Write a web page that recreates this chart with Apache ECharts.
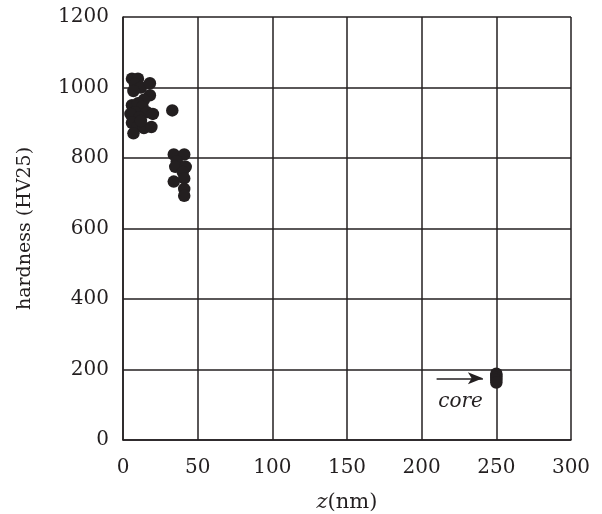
<!DOCTYPE html>
<html><head><meta charset="utf-8">
<script src="https://cdn.jsdelivr.net/npm/echarts@6/dist/echarts.min.js"></script>
<style>html,body{margin:0;padding:0;background:#fff;overflow:hidden}#c{width:602px;height:514px}</style>
</head><body><div id="c"></div>
<script>
const xTicks = [0, 50, 100, 150, 200, 250, 300];
const yTicks = [0, 200, 400, 600, 800, 1000, 1200];
const surfaceZ = [6, 10, 8, 12, 18, 7, 18, 14, 6, 10, 13, 8, 16, 5, 11, 20, 6, 10, 14, 19, 7, 12];
const surfaceH = [1025, 1025, 1010, 1000, 1012, 990, 978, 965, 950, 955, 945, 930, 930, 925, 915, 925, 900, 890, 885, 888, 870, 905];
const deepZ = [33, 34, 41, 36, 35, 42, 40, 34, 41, 41, 41];
const deepH = [935, 810, 810, 790, 775, 775, 760, 733, 742, 712, 693];
const coreZ = [250, 250, 250, 250, 250];
const coreH = [188, 182, 176, 170, 163];
const arrowStart = [210, 175];
const arrowEnd = [241, 175];
const coreLabelPos = [226, 108];
const coreLabel = 'core';

const pts = [];
surfaceZ.forEach((z, i) => pts.push([z, surfaceH[i]]));
deepZ.forEach((z, i) => pts.push([z, deepH[i]]));
coreZ.forEach((z, i) => pts.push([z, coreH[i]]));

const font = '"DejaVu Serif", "Liberation Serif", serif';
const chart = echarts.init(document.getElementById('c'));
chart.setOption({
  animation: false,
  backgroundColor: '#fff',
  grid: { left: 123, right: 31, top: 17, bottom: 74, containLabel: false, outerBoundsMode: 'none' },
  xAxis: {
    type: 'value', min: 0, max: 300, interval: 50,
    name: '{i|z}(nm)', nameLocation: 'middle', nameGap: 52,
    nameTextStyle: { fontFamily: font, fontSize: 21, color: '#231f20',
      rich: { i: { fontFamily: font, fontStyle: 'italic', fontSize: 21, color: '#231f20' } } },
    axisLine: { show: true, lineStyle: { color: '#231f20', width: 1.5 } },
    axisTick: { show: false },
    splitLine: { show: true, lineStyle: { color: '#231f20', width: 1.5 } },
    axisLabel: { fontFamily: font, fontSize: 20, color: '#231f20', margin: 18,
      formatter: v => xTicks.includes(v) ? String(v) : '' }
  },
  yAxis: {
    type: 'value', min: 0, max: 1200, interval: 200,
    name: 'hardness (HV25)', nameLocation: 'middle', nameGap: 88,
    nameTextStyle: { fontFamily: font, fontSize: 19, color: '#231f20' },
    axisLine: { show: true, lineStyle: { color: '#231f20', width: 1.5 } },
    axisTick: { show: false },
    splitLine: { show: true, lineStyle: { color: '#231f20', width: 1.5 } },
    axisLabel: { fontFamily: font, fontSize: 20, color: '#231f20', margin: 14,
      formatter: v => yTicks.includes(v) ? String(v) : '' }
  },
  series: [{
    type: 'scatter',
    data: pts,
    symbol: 'circle',
    symbolSize: 12.5,
    itemStyle: { color: '#231f20', opacity: 1 },
    markLine: {
      silent: true, symbol: ['none', 'arrow'], symbolSize: [9, 15],
      lineStyle: { color: '#231f20', width: 1.5, type: 'solid' },
      label: { show: false },
      data: [[{ coord: arrowStart }, { coord: arrowEnd }]]
    },
    markPoint: {
      silent: true, symbol: 'circle', symbolSize: 0,
      label: { show: true, position: 'inside', formatter: coreLabel, fontFamily: font,
        fontStyle: 'italic', fontSize: 20, color: '#231f20' },
      data: [{ coord: coreLabelPos }]
    }
  }]
});
</script></body></html>
